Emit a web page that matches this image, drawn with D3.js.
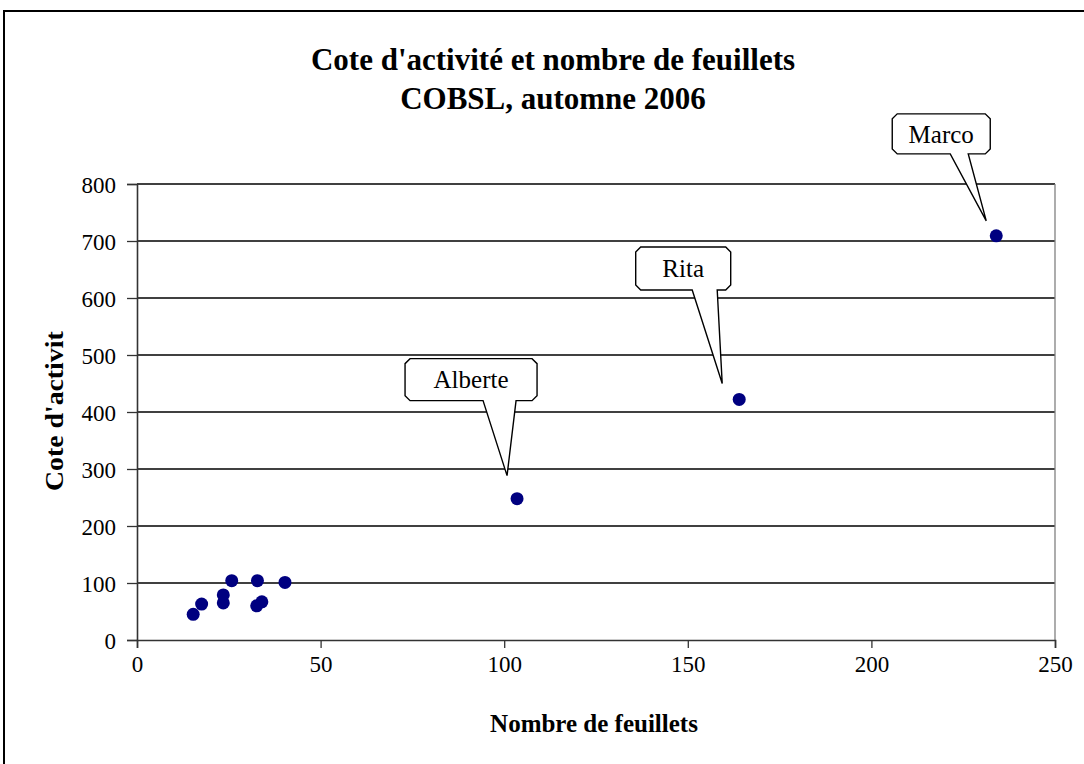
<!DOCTYPE html>
<html lang="fr">
<head>
    <meta charset="UTF-8">
    <title>Cote d'activité et nombre de feuillets</title>
    <script src="https://d3js.org/d3.v7.min.js"></script>
    <style>
        body { margin: 0; background: #fff; }
        text { font-family: "Liberation Serif", "Times New Roman", serif; }
    </style>
</head>
<body>
    <div id="chart"></div>
    <script>
        "use strict";

        // data
        let names     = ['', '', '', '', '', '', '', '', '', 'Alberte', 'Rita', 'Marco'];
        let feuillets = [15.3, 17.6, 23.5, 23.5, 25.8, 32.8, 32.6, 34, 40.3, 103.5, 164, 234];
        let cotes     = [45, 63, 79, 65, 104, 104, 60, 67, 101, 248, 422, 709];
        let xTicks = [0, 50, 100, 150, 200, 250];
        let yTicks = [0, 100, 200, 300, 400, 500, 600, 700, 800];

        // callout layout (pixel offsets from the point)
        let callouts = [
            {name: 'Alberte', bx: -46, by: -119, w: 132, h: 42, tipX: -10, tipY: -23, baseL: -34, baseR: -1},
            {name: 'Rita',    bx: -56, by: -131, w: 95,  h: 43, tipX: -17, tipY: -16, baseL: -47, baseR: -22},
            {name: 'Marco',   bx: -55, by: -102, w: 98,  h: 40, tipX: -10, tipY: -15, baseL: -46, baseR: -28}
        ];

        let svgWidth = 1084, svgHeight = 764;
        let margin = {top: 184, right: 29, bottom: 124, left: 137};
        let width = svgWidth - margin.left - margin.right;
        let height = svgHeight - margin.top - margin.bottom;

        function translate(x, y) { return 'translate(' + x + ',' + y + ')'; }

        let svg = d3.select('#chart').append('svg')
            .attr('width', svgWidth)
            .attr('height', svgHeight);

        // outer chart frame
        svg.append('rect')
            .attr('x', 4).attr('y', 11)
            .attr('width', 1100).attr('height', 780)
            .attr('fill', 'none').attr('stroke', '#000').attr('stroke-width', 2);

        let x = d3.scaleLinear().domain([0, 250]).range([0, width]);
        let y = d3.scaleLinear().domain([0, 800]).range([height, 0]);

        let g = svg.append('g').attr('transform', translate(margin.left, margin.top));

        // gridlines
        g.selectAll('.grid')
            .data(yTicks.filter(d => d > 0))
            .enter().append('line')
            .attr('x1', 0).attr('x2', width)
            .attr('y1', d => y(d)).attr('y2', d => y(d))
            .attr('stroke', '#000').attr('stroke-width', 1.6);

        // right border of plot area
        g.append('line')
            .attr('x1', width).attr('x2', width)
            .attr('y1', 0).attr('y2', height)
            .attr('stroke', '#808080').attr('stroke-width', 1.3);

        let xAxis = g.append('g')
            .attr('transform', translate(0, height))
            .call(d3.axisBottom(x).tickValues(xTicks).tickSize(8).tickPadding(10));
        let yAxis = g.append('g')
            .call(d3.axisLeft(y).tickValues(yTicks).tickSize(10).tickPadding(11));

        [xAxis, yAxis].forEach(a => {
            a.select('.domain').attr('stroke', '#333').attr('stroke-width', 1.6);
            a.selectAll('.tick line').attr('stroke', '#333').attr('stroke-width', 1.3);
            a.selectAll('.tick text')
                .attr('font-family', '"Liberation Serif", serif')
                .attr('font-size', 23).attr('fill', '#000');
        });
        yAxis.selectAll('.tick text').attr('dy', '0.35em');
        xAxis.selectAll('.tick text').attr('dy', '0.6em');

        // points
        let points = feuillets.map((f, i) => ({name: names[i], x: f, y: cotes[i]}));
        g.selectAll('circle')
            .data(points)
            .enter().append('circle')
            .attr('cx', d => x(d.x))
            .attr('cy', d => y(d.y))
            .attr('r', 6.5)
            .attr('fill', '#000080');

        // callouts
        function calloutPath(c, px, py) {
            let cx = px + c.bx, cy = py + c.by;
            let l = cx - c.w / 2, r = cx + c.w / 2, t = cy - c.h / 2, b = cy + c.h / 2, k = 5;
            return 'M' + (l + k) + ',' + t +
                'L' + (r - k) + ',' + t + 'L' + r + ',' + (t + k) +
                'L' + r + ',' + (b - k) + 'L' + (r - k) + ',' + b +
                'L' + (px + c.baseR) + ',' + b +
                'L' + (px + c.tipX) + ',' + (py + c.tipY) +
                'L' + (px + c.baseL) + ',' + b +
                'L' + (l + k) + ',' + b + 'L' + l + ',' + (b - k) +
                'L' + l + ',' + (t + k) + 'Z';
        }

        callouts.forEach(c => {
            let p = points.find(d => d.name === c.name);
            let px = x(p.x), py = y(p.y);
            g.append('path')
                .attr('d', calloutPath(c, px, py))
                .attr('fill', '#fff').attr('stroke', '#000').attr('stroke-width', 1.4);
            g.append('text')
                .attr('x', px + c.bx).attr('y', py + c.by)
                .attr('dy', '0.35em')
                .attr('text-anchor', 'middle')
                .attr('font-size', 25)
                .text(c.name);
        });

        // titles
        svg.append('text')
            .attr('x', 553).attr('y', 70)
            .attr('text-anchor', 'middle')
            .attr('font-size', 31).attr('font-weight', 'bold')
            .text("Cote d'activité et nombre de feuillets");
        svg.append('text')
            .attr('x', 553).attr('y', 109)
            .attr('text-anchor', 'middle')
            .attr('font-size', 31).attr('font-weight', 'bold')
            .text('COBSL, automne 2006');

        svg.append('text')
            .attr('x', 594).attr('y', 732)
            .attr('text-anchor', 'middle')
            .attr('font-size', 25).attr('font-weight', 'bold')
            .text('Nombre de feuillets');

        // y title, clipped at the top as in the original
        svg.append('clipPath').attr('id', 'yclip')
            .append('rect').attr('x', 20).attr('y', 331).attr('width', 60).attr('height', 200);
        svg.append('g')
            .attr('clip-path', 'url(#yclip)')
            .append('text')
            .attr('transform', translate(63, 491) + ' rotate(-90)')
            .attr('text-anchor', 'start')
            .attr('font-size', 25).attr('font-weight', 'bold')
            .attr('textLength', 172).attr('lengthAdjust', 'spacingAndGlyphs')
            .text("Cote d'activité");
    </script>
</body>
</html>
